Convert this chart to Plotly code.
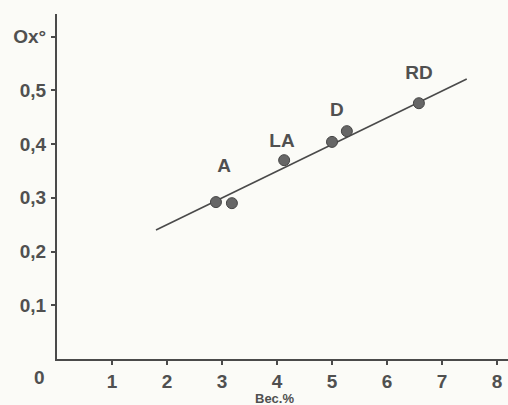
import plotly.graph_objects as go

# Measured samples: Bec (%) vs Ox°
bec = [2.89, 3.18, 4.13, 5.00, 5.27, 6.58]
ox = [0.292, 0.290, 0.370, 0.404, 0.424, 0.476]

# Fitted regression line end points
fit_x = [1.80, 7.45]
fit_y = [0.240, 0.521]

# Group labels and their positions
group_names = ["A", "LA", "D", "RD"]
group_x = [3.04, 4.09, 5.09, 6.58]
group_y = [0.356, 0.404, 0.461, 0.530]

x_ticks = [1, 2, 3, 4, 5, 6, 7, 8]
y_ticks = [0.1, 0.2, 0.3, 0.4, 0.5, 0.6]
y_tick_text = ["0,1", "0,2", "0,3", "0,4", "0,5", "Ox°"]

ink = "#4a4a4a"
paper = "#fbfbf7"
text_col = "#505050"
fam = "Liberation Sans, Arial, sans-serif"
font = dict(family=fam, size=19, color=text_col, weight="bold")

fig = go.Figure()
fig.add_trace(go.Scatter(x=fit_x, y=fit_y, mode="lines",
                         line=dict(color=ink, width=1.6), hoverinfo="skip"))
fig.add_trace(go.Scatter(x=bec, y=ox, mode="markers",
                         marker=dict(size=11, color="#666666",
                                     line=dict(color="#444444", width=1))))
fig.add_trace(go.Scatter(x=group_x, y=group_y, mode="text", text=group_names,
                         textfont=dict(family=fam, size=19, color=text_col, weight="bold"),
                         textposition="middle center"))

fig.update_layout(
    width=508, height=405,
    margin=dict(l=57, r=0, t=14, b=46),
    paper_bgcolor=paper, plot_bgcolor=paper,
    showlegend=False,
    font=font,
    xaxis=dict(range=[0, 8.2], tickvals=x_ticks, ticktext=[str(v) for v in x_ticks],
               showgrid=False, zeroline=False, showline=True, linecolor=ink, linewidth=2,
               ticks="outside", ticklen=4, tickwidth=2, tickcolor=ink, ticklabelstandoff=0),
    yaxis=dict(range=[0, 0.642], tickvals=y_ticks, ticktext=y_tick_text,
               showgrid=False, zeroline=False, showline=True, linecolor=ink, linewidth=2,
               ticks="outside", ticklen=4, tickwidth=2, tickcolor=ink, ticklabelstandoff=1),
)

fig.add_annotation(x=0, y=0, xref="x", yref="y", text="0", showarrow=False,
                   xanchor="center", yanchor="top", xshift=-18, yshift=-6,
                   font=dict(family=fam, size=19, color=text_col, weight="bold"))
fig.add_annotation(x=3.95, y=0, xref="x", yref="y", text="Bec.%", showarrow=False,
                   xanchor="center", yanchor="top", yshift=-30,
                   font=dict(family=fam, size=13, color=text_col))

fig.write_html("out.html")
